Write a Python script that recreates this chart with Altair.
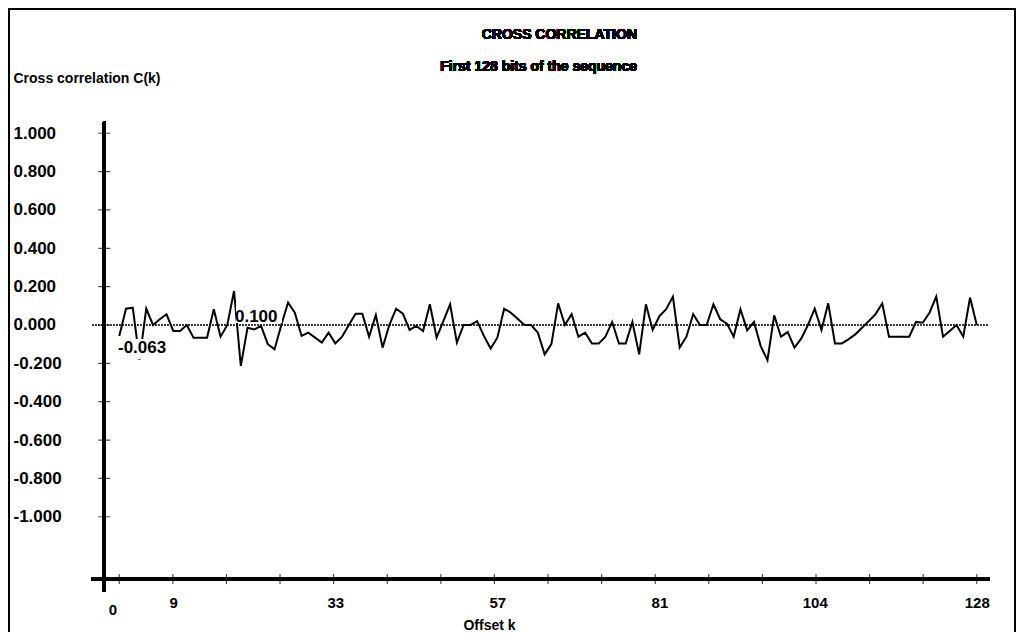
import altair as alt
import pandas as pd

# ---------------- data ----------------
offset_k = list(range(1, 129))
corr = [
    -0.057, 0.085, 0.090, -0.180, 0.085, 0.000, 0.030, 0.056, -0.031, -0.031,
    0.000, -0.066, -0.066, -0.066, 0.082, -0.061, 0.000, 0.177, -0.214, -0.014,
    -0.023, -0.005, -0.100, -0.127, 0.000, 0.117, 0.064, -0.057, -0.040, -0.066,
    -0.092, -0.040, -0.096, -0.061, 0.000, 0.059, 0.059, -0.061, 0.052, -0.118,
    0.000, 0.085, 0.059, -0.026, -0.005, -0.031, 0.108, -0.066, 0.020, 0.108,
    -0.092, 0.000, 0.000, 0.020, -0.057, -0.123, -0.066, 0.085, 0.064, 0.033,
    0.000, 0.000, -0.040, -0.153, -0.100, 0.113, 0.000, 0.056, -0.061, -0.040,
    -0.097, -0.097, -0.061, 0.016, -0.097, -0.097, 0.016, -0.153, 0.108, -0.026,
    0.047, 0.082, 0.148, -0.118, -0.061, 0.056, 0.000, 0.000, 0.108, 0.030,
    0.007, -0.061, 0.082, -0.028, 0.016, -0.110, -0.183, 0.050, -0.061, -0.037,
    -0.118, -0.071, 0.000, 0.085, -0.026, 0.113, -0.096, -0.096, -0.075, -0.049,
    -0.014, 0.020, 0.056, 0.113, -0.061, -0.061, -0.061, -0.061, 0.016, 0.012,
    0.064, 0.148, -0.061, -0.031, 0.000, -0.061, 0.143, 0.000,
]

y_tick_values = [1.0, 0.8, 0.6, 0.4, 0.2, 0.0, -0.2, -0.4, -0.6, -0.8, -1.0]
x_label_values = [0, 9, 33, 57, 81, 104, 128]
x_tick_values = [1, 8.94, 16.88, 24.81, 32.75, 40.69, 48.63, 56.56, 64.5,
                 72.44, 80.38, 88.31, 96.25, 104.19, 112.13, 120.06, 128]

annot_text = ["-0.063", "0.100"]
annot_k = [0.81, 18.14]
annot_c = [-0.12, 0.042]
box_k = [0.67, 18.29]
box_k2 = [8.81, 25.1]
box_c = [-0.073, 0.115]
box_c2 = [-0.177, 0.01]

title_text = "CROSS CORRELATION"
subtitle_text = "First 128 bits of the sequence"
y_title = "Cross correlation C(k)"
x_title = "Offset k"

# axis geometry (data units)
AXIS_K = -1.2          # where the vertical axis crosses
AXIS_C = -1.325        # where the horizontal axis crosses
X_DOMAIN = [-3.63, 130.7]
Y_DOMAIN = [-1.408, 1.069]

W, H = 907, 475
FONT = "Liberation Sans, Arial, sans-serif"

df = pd.DataFrame({"k": offset_k, "c": corr})
ann = pd.DataFrame({"k": annot_k, "c": annot_c, "t": annot_text,
                    "k1": box_k, "k2": box_k2, "c1": box_c, "c2": box_c2})
yt = pd.DataFrame({"c": y_tick_values})
xt = pd.DataFrame({"k": x_tick_values})

xs = alt.Scale(domain=X_DOMAIN, nice=False, zero=False)
ys = alt.Scale(domain=Y_DOMAIN, nice=False, zero=False)

x_axis = alt.Axis(
    values=x_label_values, format="d", domain=False, ticks=False, tickSize=0,
    grid=False, labelFlush=False, labelOverlap=False,
    labelFont=FONT, labelFontSize=15, labelFontWeight="bold", labelColor="black",
    labelBaseline="top",
    labelPadding={"condition": {"test": "datum.value == 0", "value": 7}, "value": 0},
    title=x_title, titleFont=FONT, titleFontSize=14, titleFontWeight="bold",
    titleColor="black", titleX=401, titleY=30, titleAlign="center",
    titleBaseline="middle",
)
y_axis = alt.Axis(
    values=y_tick_values, domain=False, ticks=False, tickSize=0, grid=False,
    labelExpr="(datum.value < -0.0001 ? '-' : '') + format(abs(datum.value), '.3f')",
    labelAlign="left", labelBaseline="middle", labelPadding=75,
    labelFont=FONT, labelFontSize=17, labelFontWeight="bold", labelColor="black",
    title=y_title, titleAngle=0, titleX=-75, titleY=-42, titleAlign="left",
    titleBaseline="middle", titleFont=FONT, titleFontSize=14,
    titleFontWeight="bold", titleColor="black",
)

zero_line = alt.Chart(df).mark_rule(
    color="#444", strokeDash=[1, 2], strokeWidth=1
).encode(
    x=alt.datum(-2.9, scale=xs), x2=alt.datum(129.6), y=alt.datum(0, scale=ys)
)

line = alt.Chart(df).mark_line(color="black", strokeWidth=2).encode(
    x=alt.X("k:Q", scale=xs, axis=x_axis),
    y=alt.Y("c:Q", scale=ys, axis=y_axis),
)

boxes = alt.Chart(ann).mark_rect(color="white").encode(
    x=alt.X("k1:Q", scale=xs), x2="k2:Q",
    y=alt.Y("c1:Q", scale=ys), y2="c2:Q",
)

labels = alt.Chart(ann).mark_text(
    align="left", baseline="middle", font=FONT, fontSize=17, fontWeight="bold",
    color="black"
).encode(x=alt.X("k:Q", scale=xs), y=alt.Y("c:Q", scale=ys), text="t:N")

y_axis_line = alt.Chart(df).mark_rule(color="black", strokeWidth=3).encode(
    x=alt.datum(AXIS_K, scale=xs), y=alt.datum(1.06, scale=ys), y2=alt.datum(-1.39)
)
x_axis_line = alt.Chart(df).mark_rule(color="black", strokeWidth=3).encode(
    y=alt.datum(AXIS_C, scale=ys), x=alt.datum(-3.18, scale=xs), x2=alt.datum(129.9)
)
y_ticks = alt.Chart(yt).mark_tick(
    color="black", orient="horizontal", size=12, thickness=1.2
).encode(y=alt.Y("c:Q", scale=ys), x=alt.datum(AXIS_K, scale=xs))
x_ticks = alt.Chart(xt).mark_tick(
    color="black", orient="vertical", size=10, thickness=1.2
).encode(x=alt.X("k:Q", scale=xs), y=alt.datum(AXIS_C, scale=ys))

title = alt.Chart(df).mark_text(
    font=FONT, fontSize=14, fontWeight="bold", color="black",
    baseline="middle", align="right"
).encode(x=alt.value(549), y=alt.value(-85), text=alt.value(title_text))
subtitle = alt.Chart(df).mark_text(
    font=FONT, fontSize=14, fontWeight="bold", color="black",
    baseline="middle", align="right"
).encode(x=alt.value(549), y=alt.value(-53), text=alt.value(subtitle_text))

frame = alt.Chart(df).mark_rect(
    fill=None, stroke="black", strokeWidth=1.5
).encode(x=alt.value(-79), x2=alt.value(W + 20), y=alt.value(-111), y2=alt.value(H + 60))

chart = alt.layer(
    frame, zero_line, line, boxes, labels, y_axis_line, x_axis_line,
    y_ticks, x_ticks, title, subtitle,
).properties(
    width=W, height=H, autosize="none",
    padding={"left": 80, "top": 112, "right": 22, "bottom": 37},
    background="white",
).configure_view(stroke=None)

chart.save("out.html", embed_options={"renderer": "svg", "actions": False})
